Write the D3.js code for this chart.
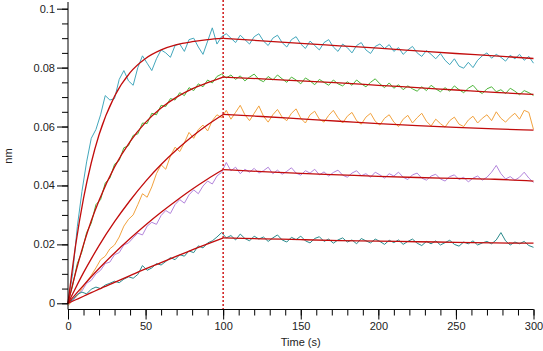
<!DOCTYPE html>
<html>
<head>
<meta charset="utf-8">
<script src="https://cdn.jsdelivr.net/npm/d3@7"></script>
<style>
  body { margin: 0; background: #fff; }
  svg text { font-family: "Liberation Sans", Arial, sans-serif; font-size: 11px; fill: #222; }
</style>
</head>
<body>
<svg id="chart" width="543" height="351"></svg>
<script>
// sampling grid of the raw sensor traces (s)
const times = d3.range(0, 301, 3);

// raw traces, one value per time above (nm)
const cyan = [
  0.0005, 0.0100, 0.0260, 0.0380, 0.0480, 0.0560, 0.0590, 0.0640, 0.0705, 0.0690,
  0.0695, 0.0760, 0.0790, 0.0755, 0.0740, 0.0800, 0.0840, 0.0815, 0.0790, 0.0830,
  0.0860, 0.0850, 0.0835, 0.0875, 0.0880, 0.0855, 0.0895, 0.0900, 0.0870, 0.0845,
  0.0890, 0.0935, 0.0880, 0.0905, 0.0915, 0.0900, 0.0885, 0.0910, 0.0895, 0.0880,
  0.0905, 0.0915, 0.0890, 0.0875, 0.0900, 0.0910, 0.0885, 0.0870, 0.0895, 0.0905,
  0.0880, 0.0865, 0.0890, 0.0875, 0.0860, 0.0885, 0.0895, 0.0870, 0.0855, 0.0880,
  0.0868, 0.0850, 0.0875, 0.0885, 0.0860, 0.0848, 0.0872, 0.0880, 0.0865, 0.0878,
  0.0855, 0.0868, 0.0845, 0.0860, 0.0872, 0.0850, 0.0838, 0.0858, 0.0845, 0.0830,
  0.0848, 0.0825, 0.0810, 0.0830, 0.0805, 0.0798, 0.0818, 0.0800, 0.0825, 0.0840,
  0.0850, 0.0832, 0.0845, 0.0835, 0.0822, 0.0842, 0.0830, 0.0845, 0.0825, 0.0838,
  0.0815
];
const green = [
  0.0002, 0.0060, 0.0135, 0.0175, 0.0240, 0.0272, 0.0335, 0.0352, 0.0408, 0.0425,
  0.0472, 0.0485, 0.0528, 0.0535, 0.0570, 0.0575, 0.0612, 0.0610, 0.0645, 0.0640,
  0.0672, 0.0668, 0.0695, 0.0690, 0.0715, 0.0705, 0.0732, 0.0722, 0.0745, 0.0735,
  0.0758, 0.0748, 0.0770, 0.0778, 0.0765, 0.0775, 0.0760, 0.0772, 0.0755, 0.0768,
  0.0778, 0.0760, 0.0752, 0.0770, 0.0758, 0.0775, 0.0762, 0.0750, 0.0768, 0.0758,
  0.0745, 0.0765, 0.0755, 0.0742, 0.0760, 0.0750, 0.0740, 0.0758, 0.0745, 0.0738,
  0.0752, 0.0740, 0.0758, 0.0745, 0.0735, 0.0750, 0.0762, 0.0745, 0.0732, 0.0748,
  0.0730, 0.0742, 0.0725, 0.0738, 0.0728, 0.0720, 0.0735, 0.0722, 0.0740, 0.0728,
  0.0718, 0.0732, 0.0720, 0.0738, 0.0725, 0.0715, 0.0730, 0.0740, 0.0722, 0.0712,
  0.0728, 0.0735, 0.0718, 0.0725, 0.0712, 0.0730, 0.0720, 0.0708, 0.0722, 0.0715,
  0.0705
];
const orange = [
  -0.0008, 0.0010, 0.0025, 0.0050, 0.0072, 0.0095, 0.0120, 0.0148, 0.0160, 0.0185,
  0.0198, 0.0225, 0.0262, 0.0285, 0.0300, 0.0335, 0.0372, 0.0360, 0.0395, 0.0440,
  0.0470, 0.0455, 0.0500, 0.0530, 0.0515, 0.0545, 0.0580, 0.0560, 0.0590, 0.0605,
  0.0585, 0.0620, 0.0640, 0.0630, 0.0655, 0.0625, 0.0648, 0.0672, 0.0640, 0.0620,
  0.0645, 0.0670, 0.0635, 0.0615, 0.0640, 0.0658, 0.0632, 0.0620, 0.0645, 0.0660,
  0.0628, 0.0612, 0.0640, 0.0652, 0.0625, 0.0615, 0.0638, 0.0655, 0.0630, 0.0612,
  0.0635, 0.0648, 0.0620, 0.0608, 0.0632, 0.0645, 0.0618, 0.0605, 0.0628, 0.0640,
  0.0615, 0.0600, 0.0625, 0.0638, 0.0612, 0.0630, 0.0645, 0.0618, 0.0602, 0.0625,
  0.0610, 0.0598, 0.0620, 0.0632, 0.0608, 0.0600, 0.0622, 0.0635, 0.0612, 0.0628,
  0.0640, 0.0620, 0.0650, 0.0628, 0.0615, 0.0632, 0.0645, 0.0625, 0.0655, 0.0648,
  0.0590
];
const purple = [
  0.0002, 0.0008, 0.0030, 0.0042, 0.0068, 0.0078, 0.0100, 0.0112, 0.0135, 0.0140,
  0.0165, 0.0172, 0.0198, 0.0205, 0.0222, 0.0238, 0.0232, 0.0262, 0.0275, 0.0268,
  0.0298, 0.0315, 0.0305, 0.0335, 0.0352, 0.0340, 0.0368, 0.0385, 0.0372, 0.0398,
  0.0415, 0.0405, 0.0432, 0.0445, 0.0478, 0.0450, 0.0462, 0.0440, 0.0455, 0.0445,
  0.0458, 0.0442, 0.0450, 0.0462, 0.0440, 0.0452, 0.0438, 0.0448, 0.0460, 0.0442,
  0.0435, 0.0450, 0.0442, 0.0455, 0.0436, 0.0446, 0.0432, 0.0444, 0.0452, 0.0435,
  0.0428, 0.0442, 0.0450, 0.0433, 0.0440, 0.0428, 0.0445, 0.0436, 0.0425, 0.0440,
  0.0432, 0.0445, 0.0428, 0.0420, 0.0436, 0.0442, 0.0425, 0.0418, 0.0432, 0.0438,
  0.0422, 0.0415, 0.0430, 0.0436, 0.0420, 0.0428, 0.0412, 0.0425, 0.0432, 0.0418,
  0.0428, 0.0445, 0.0468, 0.0440, 0.0422, 0.0430, 0.0418, 0.0428, 0.0445, 0.0425,
  0.0410
];
const teal = [
  0.0002, 0.0012, 0.0030, 0.0038, 0.0032, 0.0048, 0.0055, 0.0050, 0.0062, 0.0068,
  0.0075, 0.0070, 0.0082, 0.0090, 0.0085, 0.0098, 0.0128, 0.0112, 0.0120, 0.0135,
  0.0130, 0.0142, 0.0155, 0.0148, 0.0165, 0.0160, 0.0178, 0.0172, 0.0195, 0.0188,
  0.0205, 0.0212, 0.0225, 0.0240, 0.0222, 0.0230, 0.0215, 0.0235, 0.0220, 0.0212,
  0.0228, 0.0218, 0.0225, 0.0210, 0.0222, 0.0232, 0.0215, 0.0208, 0.0224, 0.0216,
  0.0228, 0.0212, 0.0205, 0.0220, 0.0226, 0.0210, 0.0218, 0.0204, 0.0215, 0.0222,
  0.0208, 0.0215, 0.0202, 0.0220, 0.0212, 0.0205, 0.0218, 0.0210, 0.0200, 0.0214,
  0.0206, 0.0215, 0.0200, 0.0210, 0.0218, 0.0204, 0.0196, 0.0210, 0.0202, 0.0212,
  0.0198, 0.0206, 0.0214, 0.0200, 0.0194, 0.0208, 0.0202, 0.0212, 0.0198, 0.0205,
  0.0210, 0.0202, 0.0215, 0.0240, 0.0212, 0.0198, 0.0208, 0.0202, 0.0210, 0.0196,
  0.0190
];

// fitted curves (association 0-100 s, dissociation 100-300 s)
const fitAssocTimes = [0, 5, 10, 15, 20, 30, 40, 50, 60, 70, 80, 90, 100];
const fitDissocTimes = [100, 125, 150, 175, 200, 225, 250, 275, 300];
const fitCyanA = [0, 0.0200, 0.0356, 0.0477, 0.0572, 0.0703, 0.0783, 0.0831, 0.0860, 0.0878, 0.0888, 0.0895, 0.0899];
const fitCyanD = [0.0899, 0.0891, 0.0882, 0.0874, 0.0866, 0.0857, 0.0848, 0.0840, 0.0831];
const fitGreenA = [0, 0.0106, 0.0199, 0.0280, 0.0349, 0.0463, 0.0549, 0.0614, 0.0663, 0.0700, 0.0728, 0.0749, 0.0768];
const fitGreenD = [0.0768, 0.0762, 0.0755, 0.0748, 0.0740, 0.0732, 0.0724, 0.0716, 0.0709];
const fitOrangeA = [0, 0.0053, 0.0104, 0.0151, 0.0196, 0.0277, 0.0349, 0.0414, 0.0471, 0.0521, 0.0566, 0.0606, 0.0641];
const fitOrangeD = [0.0641, 0.0634, 0.0626, 0.0618, 0.0610, 0.0603, 0.0597, 0.0592, 0.0588];
const fitPurpleA = [0, 0.0031, 0.0061, 0.0090, 0.0118, 0.0171, 0.0220, 0.0266, 0.0309, 0.0349, 0.0387, 0.0422, 0.0454];
const fitPurpleD = [0.0454, 0.0447, 0.0441, 0.0436, 0.0431, 0.0427, 0.0424, 0.0421, 0.0415];
const fitTealA = [0, 0.0012, 0.0024, 0.0036, 0.0048, 0.0071, 0.0094, 0.0117, 0.0138, 0.0160, 0.0181, 0.0202, 0.0222];
const fitTealD = [0.0222, 0.0219, 0.0216, 0.0213, 0.0211, 0.0209, 0.0207, 0.0205, 0.0204];

const xTicks = [0, 50, 100, 150, 200, 250, 300];
const yTicks = [0, 0.02, 0.04, 0.06, 0.08, 0.1];
const yTickLabels = ["0", "0.02", "0.04", "0.06", "0.08", "0.1"];
const stepTime = 100;

const svg = d3.select("svg#chart");

// SCALES
const x = d3.scaleLinear().domain([0, 300]).range([68, 533.5]);
const y = d3.scaleLinear().domain([0, 0.1]).range([303.3, 8.7]);
const axisY = 309.5;

const line = d3.line().x(d => x(d[0])).y(d => y(d[1]));
const fitLine = d3.line().x(d => x(d[0])).y(d => y(d[1])).curve(d3.curveMonotoneX);

// RAW TRACES
const traces = [
  { values: cyan, color: "#43a7bc" },
  { values: green, color: "#4db53a" },
  { values: orange, color: "#f2a23e" },
  { values: purple, color: "#b385dc" },
  { values: teal, color: "#2a8a8c" }
];
svg.append("g").selectAll("path")
  .data(traces)
  .join("path")
  .attr("fill", "none")
  .attr("stroke", d => d.color)
  .attr("stroke-width", 1)
  .attr("d", d => line(times.map((t, i) => [t, d.values[i]])));

// FITS
const fits = [
  [fitAssocTimes, fitCyanA], [fitDissocTimes, fitCyanD],
  [fitAssocTimes, fitGreenA], [fitDissocTimes, fitGreenD],
  [fitAssocTimes, fitOrangeA], [fitDissocTimes, fitOrangeD],
  [fitAssocTimes, fitPurpleA], [fitDissocTimes, fitPurpleD],
  [fitAssocTimes, fitTealA], [fitDissocTimes, fitTealD]
];
svg.append("g").selectAll("path")
  .data(fits)
  .join("path")
  .attr("fill", "none")
  .attr("stroke", "#c20c0c")
  .attr("stroke-width", 1.3)
  .attr("d", d => fitLine(d[0].map((t, i) => [t, d[1][i]])));

// step marker
svg.append("line")
  .attr("x1", x(stepTime)).attr("x2", x(stepTime))
  .attr("y1", 0).attr("y2", axisY)
  .attr("stroke", "#d01818")
  .attr("stroke-width", 1.5)
  .attr("stroke-dasharray", "2,2");

// AXES
const xAxis = g => g.attr("transform", `translate(0,${axisY})`)
  .call(d3.axisBottom(x).tickValues(d3.range(0, 301, 10)).tickSize(6).tickFormat(""))
  .call(g => g.append("g").call(d3.axisBottom(x).tickValues(xTicks).tickSize(10).tickPadding(3)))
  .call(g => g.selectAll(".domain").attr("d", `M${x(0)},0H${x(300)}`));

const yAxis = g => g.attr("transform", `translate(${x(0)},0)`)
  .call(d3.axisLeft(y).tickValues(d3.range(0, 0.1001, 0.005)).tickSize(6).tickFormat(""))
  .call(g => g.append("g").call(d3.axisLeft(y).tickValues(yTicks).tickSize(11).tickPadding(2)
    .tickFormat((d, i) => yTickLabels[i])))
  .call(g => g.selectAll(".domain").remove())
  .call(g => g.append("line").attr("x1", 0).attr("x2", 0).attr("y1", 2).attr("y2", axisY)
    .attr("stroke", "#000"));

svg.append("g").call(xAxis);
svg.append("g").call(yAxis);
svg.selectAll(".tick line").attr("stroke", "#000");
svg.selectAll(".domain").attr("stroke", "#000");
svg.selectAll(".tick text").attr("font-size", 11).attr("font-family", "Liberation Sans, Arial, sans-serif").attr("fill", "#222");

svg.append("text")
  .attr("x", x(150)).attr("y", 346)
  .attr("text-anchor", "middle")
  .text("Time (s)");

svg.append("text")
  .attr("transform", "translate(12,156) rotate(-90)")
  .attr("text-anchor", "middle")
  .text("nm");
</script>
</body>
</html>
